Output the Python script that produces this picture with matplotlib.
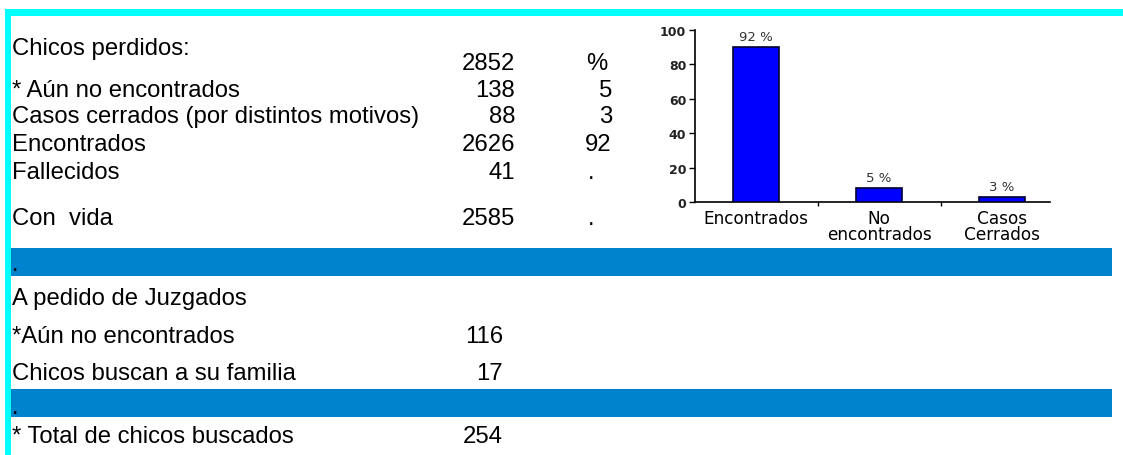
import matplotlib
matplotlib.use("Agg")
import matplotlib.pyplot as plt
from matplotlib.patches import Rectangle

# ---------------- data ----------------
top_labels = ["Chicos perdidos:", "* Aún no encontrados",
              "Casos cerrados (por distintos motivos)", "Encontrados",
              "Fallecidos", "Con  vida"]
top_counts = ["2852", "138", "88", "2626", "41", "2585"]
top_pcts = ["%", "5", "3", "92", ".", "."]

low_labels = ["A pedido de Juzgados", "*Aún no encontrados",
              "Chicos buscan a su familia", "* Total de chicos buscados"]
low_counts = ["", "116", "17", "254"]

chart_categories = ["Encontrados", "No\nencontrados", "Casos\nCerrados"]
chart_values = [90, 8, 3]
chart_value_labels = ["92 %", "5 %", "3 %"]
chart_yticks = [0, 20, 40, 60, 80, 100]

# ---------------- layout ----------------
W, H = 1123, 456
fig = plt.figure(figsize=(W / 100, H / 100), dpi=100)
bg = fig.add_axes([0, 0, 1, 1])
bg.set_xlim(0, W)
bg.set_ylim(H, 0)
bg.axis("off")

CYAN = "#00FFFF"
BAND = "#0083CD"
FONT = "Liberation Sans"
FS = 17.2

# cyan frame
bg.add_patch(Rectangle((5, 10), W - 5, 7, color=CYAN, lw=0))
bg.add_patch(Rectangle((5, 10), 6, H - 10, color=CYAN, lw=0))
# blue bands
bg.add_patch(Rectangle((11, 249), 1101, 28, color=BAND, lw=0))
bg.add_patch(Rectangle((11, 390), 1101, 28, color=BAND, lw=0))

tkw = dict(fontfamily=FONT, fontsize=FS, color="black", va="baseline")

label_y = [55, 97, 123, 151, 179, 225]
num_y = [70, 97, 123, 151, 179, 225]
for lab, cnt, pct, ly, ny in zip(top_labels, top_counts, top_pcts, label_y, num_y):
    bg.text(12, ly, lab, ha="left", **tkw)
    bg.text(515, ny, cnt, ha="right", **tkw)
    if pct == "%":
        bg.text(607, ny, pct, ha="right", **tkw)
    elif pct == ".":
        bg.text(588, ny, pct, ha="left", **tkw)
    else:
        bg.text(612, ny, pct, ha="right", **tkw)

bg.text(12, 271, ".", ha="left", **tkw)
bg.text(12, 414, ".", ha="left", **tkw)

low_y = [305, 343, 380, 443]
for lab, cnt, ly in zip(low_labels, low_counts, low_y):
    bg.text(12, ly, lab, ha="left", **tkw)
    if cnt:
        bg.text(503, ly, cnt, ha="right", **tkw)

# ---------------- bar chart ----------------
x0, x1 = 694.5, 1050
y_top, y_zero = 31, 203
ax = fig.add_axes([x0 / W, (H - y_zero) / H, (x1 - x0) / W, (y_zero - y_top) / H])
ax.patch.set_alpha(0)
xs = list(range(len(chart_categories)))
bars = ax.bar(xs, chart_values, width=0.37, color="#0000FF",
              edgecolor="#000033", linewidth=1.2, zorder=3)
ax.set_xlim(-0.5, (x1 - 756) / 123)
ax.set_ylim(0, 100)
ax.set_yticks(chart_yticks)
ax.set_yticklabels([str(v) for v in chart_yticks], fontfamily="DejaVu Sans",
                   fontsize=9, fontweight="bold", color="#222222")
ax.tick_params(axis="y", direction="out", length=4, width=1, pad=2)
ax.set_xticks(xs)
ax.set_xticklabels(chart_categories, fontfamily="DejaVu Sans", fontsize=12.2,
                   linespacing=0.88, va="top")
ax.tick_params(axis="x", which="major", length=0, pad=5)
ax.set_xticks([0.5, 1.5], minor=True)
ax.tick_params(axis="x", which="minor", direction="out", length=3, width=1)
for s in ("top", "right"):
    ax.spines[s].set_visible(False)
for s in ("left", "bottom"):
    ax.spines[s].set_linewidth(1.2)
    ax.spines[s].set_color("black")

for x, v, lab in zip(xs, chart_values, chart_value_labels):
    ax.annotate(lab, (x, v), xytext=(0, 3), textcoords="offset points",
                ha="center", va="bottom", fontfamily="DejaVu Sans",
                fontsize=9.5, color="#333333")

fig.savefig("out.png", dpi=100)
